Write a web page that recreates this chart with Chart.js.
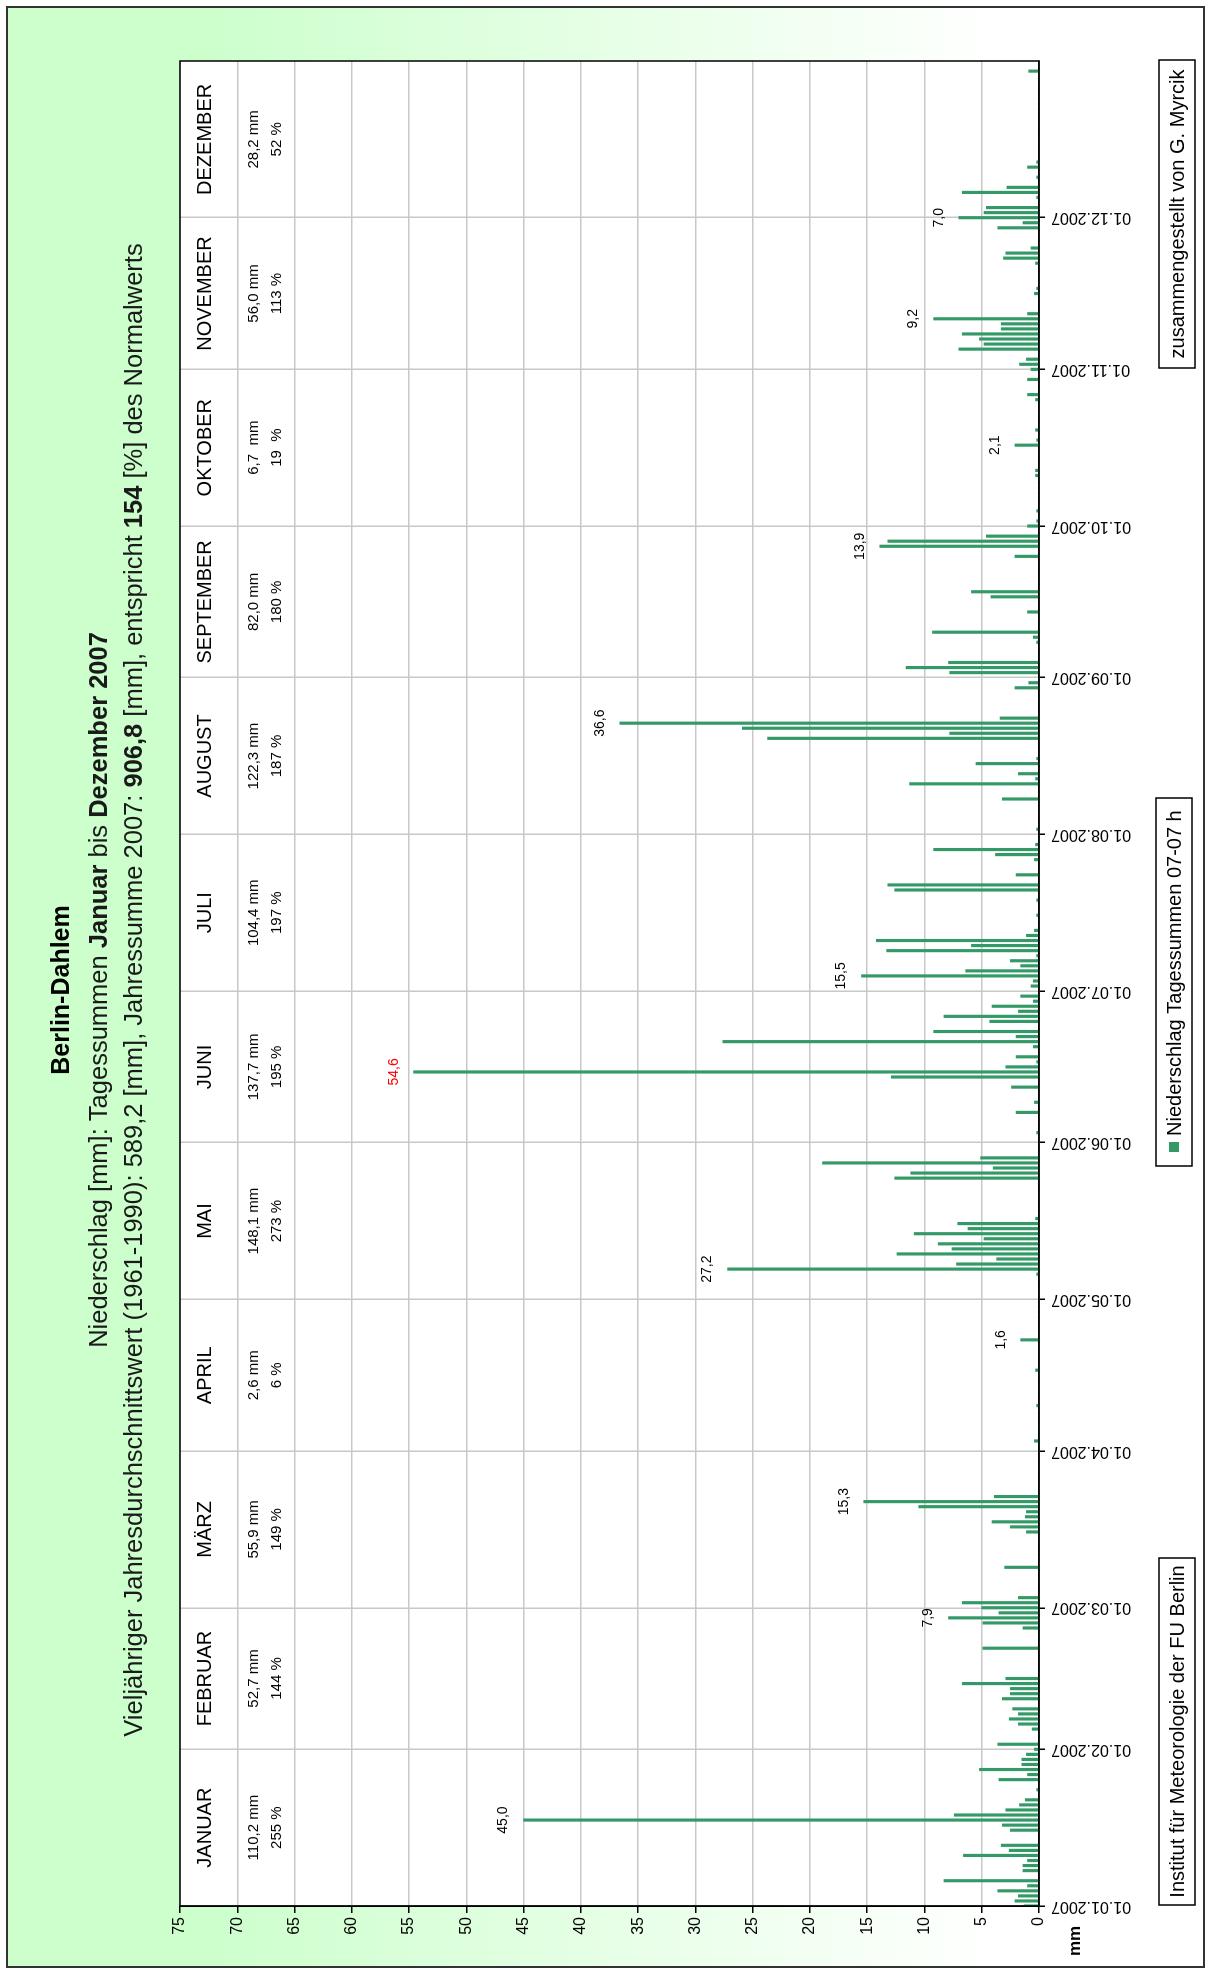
<!DOCTYPE html>
<html>
<head>
<meta charset="utf-8">
<script src="https://cdn.jsdelivr.net/npm/chart.js"></script>
<style>
  html, body { margin: 0; padding: 0; background: #fff; overflow: hidden; }
  body { width: 1209px; height: 1970px; position: relative; }
  /* chart is drawn landscape and turned a quarter turn to the left */
  #wrap { position: absolute; left: 0; top: 1970px; width: 1970px; height: 1209px;
          transform-origin: 0 0; transform: rotate(-90deg); }
</style>
</head>
<body>
<div id="wrap"><canvas id="myChart" width="1970" height="1209"></canvas></div>
<script>
// Tagessummen 2007 [mm], one array per month
var jan = [1.3, 2.1, 1.8, 3.6, 1.0, 8.3, 0, 1.4, 1.4, 1.0, 6.6, 2.6, 3.3, 0, 0, 2.5, 3.2, 45.0, 7.4, 2.9, 1.7, 1.2, 0, 0.2, 0, 3.5, 1.0, 5.2, 1.5, 1.5, 1.1];
var feb = [0.4, 3.6, 0, 0, 0.6, 1.8, 2.6, 1.8, 2.3, 0, 3.2, 2.5, 2.5, 6.7, 2.9, 0, 0, 0, 0, 0, 4.9, 0, 0, 0, 1.4, 4.9, 7.9, 3.5];
var mar = [5.0, 6.7, 1.8, 0, 0, 0, 0, 0, 3.0, 0, 0, 0, 0, 0, 0, 1.1, 2.5, 4.1, 1.2, 1.1, 10.5, 15.3, 3.9, 0, 0, 0, 0, 0, 0, 0, 0];
var apr = [0, 0, 0.4, 0, 0, 0, 0, 0, 0, 0.2, 0, 0, 0, 0, 0, 0, 0.3, 0, 0, 0, 0, 0, 1.6, 0, 0, 0, 0, 0, 0, 0];
var may = [0, 0, 0, 0, 0, 0.2, 27.2, 7.2, 3.7, 12.4, 7.6, 8.8, 4.8, 10.9, 6.2, 7.1, 0.3, 0, 0, 0, 0, 0, 0, 0, 12.6, 11.2, 4.0, 18.9, 5.1, 0, 0];
var jun = [0, 0, 0.2, 0, 0, 0, 2.0, 0, 0.4, 0, 0, 2.4, 0, 12.9, 54.6, 2.9, 0.2, 2.0, 0, 0.5, 27.6, 2.0, 9.2, 0, 4.3, 8.3, 1.8, 4.1, 0.5, 1.6];
var jul = [0, 0.7, 0.5, 15.5, 6.4, 1.6, 2.5, 0.2, 13.3, 5.9, 14.2, 1.1, 0.4, 0, 0, 0.2, 0, 0, 0.2, 0, 12.6, 13.2, 0, 2.0, 0, 0, 0.4, 3.8, 9.2, 0.3, 0];
var aug = [0, 0.2, 0, 0, 0, 0, 0, 3.2, 0, 0, 11.3, 0.3, 1.8, 0, 5.5, 0.2, 0, 0, 0, 23.7, 7.8, 25.9, 36.6, 3.4, 0, 0, 0, 0, 0, 2.1, 0.9];
var sep = [0, 7.8, 11.6, 7.9, 0, 0, 0, 0.2, 0.5, 9.3, 0, 0, 0, 1.0, 0, 0, 4.2, 5.9, 0, 0, 0, 0, 0, 0, 2.1, 0, 13.9, 13.2, 4.6, 0];
var oct = [1.0, 0.2, 0, 0.2, 0, 0, 0, 0, 0, 0, 0.3, 0.3, 0, 0, 0, 0, 2.1, 0.2, 0, 0.3, 0, 0, 0, 0, 0, 0.3, 1.0, 0, 0, 1.0, 0];
var nov = [0.7, 1.7, 1.1, 0, 7.0, 4.8, 5.2, 6.7, 3.3, 3.3, 9.2, 1.0, 0, 0, 0, 0.4, 0.2, 0, 0, 0, 0, 0.3, 3.1, 2.9, 0.7, 0, 0, 0, 3.6, 1.4];
var dec = [7.0, 4.8, 4.6, 0, 0.2, 6.7, 2.8, 0, 0.2, 0, 1.0, 0.2, 0, 0, 0, 0, 0, 0, 0, 0, 0, 0, 0, 0, 0, 0, 0, 0, 0, 0.9, 0];

var monthNames = ['JANUAR', 'FEBRUAR', 'MÄRZ', 'APRIL', 'MAI', 'JUNI', 'JULI', 'AUGUST', 'SEPTEMBER', 'OKTOBER', 'NOVEMBER', 'DEZEMBER'];
var monthSums = ['110,2 mm', '52,7 mm', '55,9 mm', '2,6 mm', '148,1 mm', '137,7 mm', '104,4 mm', '122,3 mm', '82,0 mm', '6,7  mm', '56,0 mm', '28,2 mm'];
var monthPercents = ['255 %', '144 %', '149 %', '6 %', '273 %', '195 %', '197 %', '187 %', '180 %', '19  %', '113 %', '52 %'];
var year = '2007';
var yMin = 0, yMax = 75, yStep = 5;

var FONT = '"Liberation Sans", Arial, sans-serif';
var months = [jan, feb, mar, apr, may, jun, jul, aug, sep, oct, nov, dec];

// flatten to one category per day, remember where each month starts
var labels = [], values = [], monthStart = [];
function two(n) { return (n < 10 ? '0' : '') + n; }
months.forEach(function (days, m) {
  monthStart.push(labels.length);
  days.forEach(function (v, d) {
    labels.push(two(d + 1) + '.' + two(m + 1) + '.' + year);
    values.push(v);
  });
});
labels.push(''); // end of year, right edge of the plot
function isStart(i) { return monthStart.indexOf(i) >= 0; }

function drawRuns(c, parts, cx, cy, size, color) {
  var total = 0;
  parts.forEach(function (p) {
    c.font = (p.b ? 'bold ' : '') + size + 'px ' + FONT;
    p.w = c.measureText(p.t).width;
    total += p.w;
  });
  var x = cx - total / 2;
  c.fillStyle = color;
  c.textAlign = 'left';
  c.textBaseline = 'middle';
  parts.forEach(function (p) {
    c.font = (p.b ? 'bold ' : '') + size + 'px ' + FONT;
    c.fillText(p.t, x, cy);
    x += p.w;
  });
}

function textBox(c, text, x0, x1, y0, y1, swatch) {
  c.fillStyle = '#fff';
  c.fillRect(x0, y0, x1 - x0, y1 - y0);
  c.strokeStyle = '#000';
  c.lineWidth = 1.5;
  c.strokeRect(x0, y0, x1 - x0, y1 - y0);
  c.font = '20px ' + FONT;
  c.textBaseline = 'middle';
  c.fillStyle = '#000';
  if (swatch) {
    c.fillStyle = swatch;
    c.fillRect(x0 + 14, (y0 + y1) / 2 - 5, 10, 10);
    c.fillStyle = '#000';
    c.textAlign = 'left';
    c.fillText(text, x0 + 30, (y0 + y1) / 2 + 1);
  } else {
    c.textAlign = 'center';
    c.fillText(text, (x0 + x1) / 2, (y0 + y1) / 2 + 1);
  }
}

var decor = {
  id: 'decor',
  beforeDraw: function (chart) {
    var c = chart.ctx, a = chart.chartArea;
    c.save();
    c.fillStyle = '#fff';
    c.fillRect(0, 0, chart.width, chart.height);
    var g = c.createLinearGradient(0, 200, 0, 1000);
    g.addColorStop(0, '#ccffcc');
    g.addColorStop(1, '#ffffff');
    c.fillStyle = g;
    c.fillRect(3, 7, 1960, 1197);
    c.strokeStyle = '#333';
    c.lineWidth = 2;
    c.strokeRect(3, 7, 1960, 1197);
    c.fillStyle = '#fff';
    c.fillRect(a.left, a.top, a.right - a.left, a.bottom - a.top);
    c.restore();
  },
  afterDraw: function (chart) {
    var c = chart.ctx, a = chart.chartArea;
    var xs = chart.scales.x;
    var meta = chart.getDatasetMeta(0);
    c.save();

    // plot frame
    c.strokeStyle = '#000';
    c.lineWidth = 1.5;
    c.strokeRect(a.left, a.top, a.right - a.left, a.bottom - a.top);

    // titles
    var cx = 980;
    drawRuns(c, [{ t: 'Berlin-Dahlem', b: 1 }], cx, 62, 25, '#000');
    drawRuns(c, [{ t: 'Niederschlag [mm]: Tagessummen ' }, { t: 'Januar', b: 1 }, { t: ' bis ' },
                 { t: 'Dezember ' + year, b: 1 }], cx, 100, 25.5, '#1a1a1a');
    drawRuns(c, [{ t: 'Vieljähriger Jahresdurchschnittswert (1961-1990): 589,2 [mm], Jahressumme ' + year + ': ' },
                 { t: '906,8', b: 1 }, { t: ' [mm], entspricht ' }, { t: '154', b: 1 },
                 { t: ' [%] des Normalwerts' }], cx, 135, 25.5, '#1a1a1a');

    // month captions inside the plot
    c.fillStyle = '#000';
    c.textAlign = 'center';
    c.textBaseline = 'middle';
    var yearMax = Math.max.apply(null, values);
    monthNames.forEach(function (name, m) {
      var s = monthStart[m];
      var e = m < 11 ? monthStart[m + 1] : labels.length - 1;
      var mx = (xs.getPixelForValue(s) + xs.getPixelForValue(e)) / 2;
      c.font = '20px ' + FONT;
      c.fillText(name, mx, 205);
      c.font = '15px ' + FONT;
      c.fillText(monthSums[m], mx, 254);
      c.fillText(monthPercents[m], mx, 277);

      // monthly maximum gets its value written above the bar
      var best = s;
      for (var i = s; i < e; i++) { if (values[i] > values[best]) best = i; }
      var bar = meta.data[best];
      c.font = '14px ' + FONT;
      c.fillStyle = values[best] === yearMax ? '#ff0000' : '#000';
      c.fillText(values[best].toFixed(1).replace('.', ','), bar.x, bar.y - 20);
      c.fillStyle = '#000';
    });

    // axis unit
    c.font = 'bold 17px ' + FONT;
    c.textAlign = 'center';
    c.fillText('mm', 29, 1075);

    // boxes along the bottom edge
    textBox(c, 'Institut für Meteorologie der FU Berlin', 65, 412, 1159, 1195);
    textBox(c, chart.data.datasets[0].label, 804, 1172, 1156, 1192, chart.data.datasets[0].backgroundColor);
    textBox(c, 'zusammengestellt von G. Myrcik', 1602, 1910, 1159, 1195);
    c.restore();
  }
};

var ctx = document.getElementById('myChart').getContext('2d');
var myChart = new Chart(ctx, {
  type: 'bar',
  data: {
    labels: labels,
    datasets: [{
      label: 'Niederschlag Tagessummen 07-07 h',
      data: values,
      backgroundColor: '#339966',
      borderWidth: 0,
      barThickness: 2.5
    }]
  },
  options: {
    responsive: false,
    animation: false,
    devicePixelRatio: 1,
    layout: { padding: { top: 180, right: 61, left: 0, bottom: 0 } },
    plugins: { legend: { display: false }, tooltip: { enabled: false } },
    scales: {
      x: {
        offset: false,
        grid: {
          offset: false,
          lineWidth: 1.5,
          tickLength: 6,
          color: function (c) { return isStart(c.index) && c.index > 0 ? '#c8c8c8' : 'rgba(0,0,0,0)'; },
          tickColor: function (c) { return isStart(c.index) ? '#000' : 'rgba(0,0,0,0)'; }
        },
        border: { color: '#000', width: 1.5 },
        ticks: {
          autoSkip: false,
          minRotation: 90,
          maxRotation: 90,
          padding: 6,
          color: '#000',
          font: { family: FONT, size: 16 },
          callback: function (v, i) { return isStart(i) ? labels[i] : ''; }
        },
        afterFit: function (s) { s.height = 170; s.paddingLeft = 0; s.paddingRight = 0; }
      },
      y: {
        min: yMin,
        max: yMax,
        ticks: { stepSize: yStep, color: '#000', padding: 4, font: { family: FONT, size: 16 } },
        grid: { color: '#c8c8c8', lineWidth: 1.5, tickLength: 7, tickColor: '#000' },
        border: { color: '#000', width: 1.5 },
        afterFit: function (s) { s.width = 64; s.paddingTop = 0; s.paddingBottom = 0; }
      }
    }
  },
  plugins: [decor]
});
</script>
</body>
</html>
